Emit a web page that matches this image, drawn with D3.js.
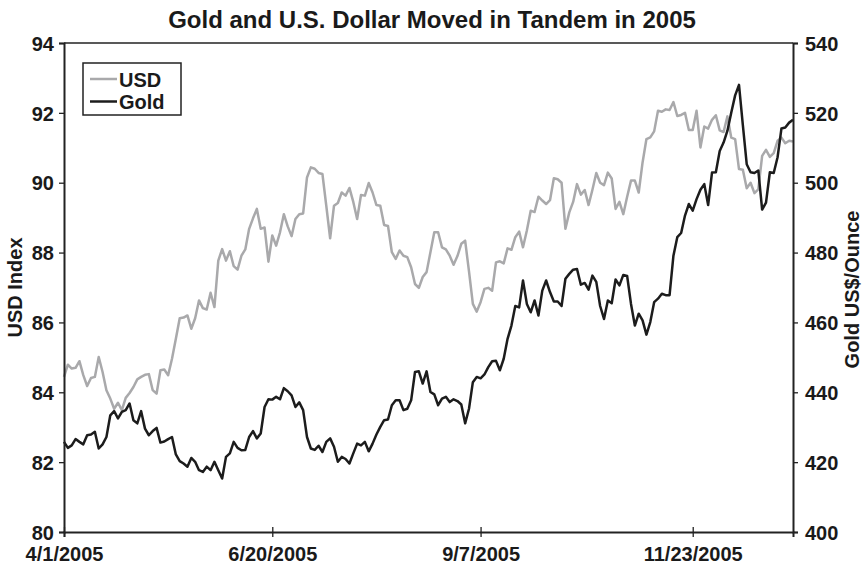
<!DOCTYPE html>
<html>
<head>
<meta charset="utf-8">
<script src="https://cdn.jsdelivr.net/npm/d3@7"></script>
<style>
  body { margin: 0; background: #fff; }
  text { font-family: "Liberation Sans", Arial, sans-serif; font-weight: bold; fill: #1a1a1a; }
</style>
</head>
<body>
<svg id="chart" width="865" height="572"></svg>
<script>
// daily values, 4/1/2005 .. end of 2005
const usd = [
  84.44, 84.79, 84.68, 84.70, 84.89, 84.49, 84.18, 84.41, 84.44, 85.01,
  84.58, 84.06, 83.82, 83.53, 83.70, 83.49, 83.84, 83.98, 84.15, 84.37,
  84.44, 84.50, 84.52, 84.06, 83.96, 84.63, 84.65, 84.49, 84.96, 85.53,
  86.12, 86.14, 86.20, 85.82, 86.12, 86.63, 86.41, 86.37,
  86.85, 86.44, 87.77, 88.10, 87.77, 88.04, 87.61, 87.51, 87.91, 88.09,
  88.68, 88.98, 89.25, 88.68, 88.72, 87.74, 88.49, 88.20, 88.58, 89.10,
  88.75, 88.47, 88.96, 89.10, 89.12, 90.15, 90.44, 90.40, 90.28, 90.25,
  89.34, 88.41, 89.34, 89.42, 89.72, 89.63, 89.85, 89.45,
  88.96, 89.65, 89.63, 89.99, 89.72, 89.36, 89.34, 88.79, 88.76, 88.01,
  87.82, 88.06, 87.91, 87.87, 87.58, 87.10, 86.99, 87.30, 87.44, 88.01,
  88.58, 88.58, 88.15, 88.09, 87.91, 87.65, 87.90, 88.25, 88.34, 87.46,
  86.53, 86.31, 86.58, 86.96, 86.99, 86.91, 87.72, 87.75, 87.69,
  88.12, 88.08, 88.44, 88.60, 88.15, 88.63, 89.20, 89.16, 89.60, 89.49,
  89.39, 89.50, 90.13, 90.10, 90.00, 88.68, 89.15, 89.45, 89.96, 89.66,
  89.79, 89.36, 89.80, 90.28, 90.00, 89.93, 90.29, 90.12, 89.25, 89.45,
  89.10, 89.60, 90.06, 90.06, 89.72, 90.58, 91.25, 91.30,
  91.47, 92.06, 92.03, 92.10, 92.08, 92.31, 91.91, 91.94, 92.00, 91.51,
  91.51, 92.06, 91.01, 91.61, 91.55, 91.80, 91.93, 91.50, 91.45, 91.90,
  91.29, 91.25, 90.39, 90.37, 89.84, 90.00, 89.70, 89.81, 90.77, 90.94,
  90.74, 90.85, 91.20, 91.29, 91.13, 91.20, 91.18
];

const gold = [
  425.8, 424.1, 424.8, 426.6, 425.8, 425.1, 427.7, 427.9, 428.7, 423.9,
  425.1, 427.2, 433.4, 434.6, 432.5, 434.4, 434.9, 436.8, 432.0, 431.1,
  434.6, 429.6, 427.7, 428.9, 429.8, 425.6, 425.9, 426.6, 427.2, 422.2,
  420.3, 419.6, 418.7, 421.2, 420.1, 417.7, 417.2, 418.7,
  417.7, 420.1, 417.7, 415.3, 421.5, 422.5, 425.8, 424.1, 423.4, 423.5,
  427.2, 428.9, 426.8, 428.2, 435.8, 438.0, 437.9, 438.7, 438.0, 441.2,
  440.3, 439.1, 435.8, 437.1, 434.9, 427.2, 423.9, 423.5, 424.7, 422.9,
  425.8, 426.8, 424.4, 420.1, 421.5, 420.9, 419.6, 422.5,
  425.3, 424.8, 425.8, 423.1, 425.3, 427.9, 430.1, 432.0, 432.2, 436.3,
  437.7, 437.7, 434.9, 435.3, 437.7, 445.8, 446.0, 442.5, 446.0, 440.1,
  439.4, 436.3, 438.2, 438.7, 437.2, 438.0, 437.5, 436.5, 431.1, 435.3,
  442.9, 444.4, 444.0, 445.1, 447.2, 448.9, 449.0, 446.3, 449.6,
  455.3, 459.1, 464.7, 464.3, 472.0, 465.3, 462.9, 466.3, 462.0, 469.1,
  472.0, 468.7, 466.0, 466.0, 464.7, 472.5, 473.9, 475.1, 475.3, 470.8,
  471.3, 469.4, 473.4, 471.6, 464.7, 461.0, 466.3, 465.5, 472.3, 470.6,
  473.6, 473.3, 465.3, 459.1, 462.5, 460.6, 456.5, 460.1,
  465.8, 466.8, 468.2, 467.8, 467.8, 479.1, 484.4, 485.6, 490.6, 493.9,
  492.0, 495.3, 498.0, 499.6, 493.6, 502.9, 503.0, 509.1, 511.5, 514.9,
  520.1, 525.0, 528.0, 516.5, 505.3, 503.0, 502.8, 503.5, 492.3, 494.3,
  503.0, 502.8, 507.3, 515.5, 515.8, 517.2, 518.0
];

const tickIdx = [0, 54, 108, 163];
const tickLabels = ["4/1/2005", "6/20/2005", "9/7/2005", "11/23/2005"];
const usdTicks = [80, 82, 84, 86, 88, 90, 92, 94];
const goldTicks = [400, 420, 440, 460, 480, 500, 520, 540];

const margin = { top: 43, right: 72, bottom: 40, left: 64 };
const W = 865, H = 572;
const width = W - margin.left - margin.right,
      height = H - margin.top - margin.bottom;

const svg = d3.select("#chart");
const g = svg.append("g").attr("transform", `translate(${margin.left},${margin.top})`);

const x = d3.scaleLinear().domain([0, usd.length - 1]).range([0, width]);
const yL = d3.scaleLinear().domain([80, 94]).range([height, 0]);
const yR = d3.scaleLinear().domain([400, 540]).range([height, 0]);

// frame top
g.append("line").attr("x1", 0).attr("x2", width).attr("y1", 0).attr("y2", 0)
  .attr("stroke", "#222").attr("stroke-width", 1.5);

// lines
const usdLine = d3.line().x((d, i) => x(i)).y(d => yL(d));
const goldLine = d3.line().x((d, i) => x(i)).y(d => yR(d));

g.append("path").datum(usd)
  .attr("fill", "none").attr("stroke", "#a9a9ab").attr("stroke-width", 2.5)
  .attr("stroke-linejoin", "round").attr("d", usdLine);
g.append("path").datum(gold)
  .attr("fill", "none").attr("stroke", "#1c1c1c").attr("stroke-width", 2.5)
  .attr("stroke-linejoin", "round").attr("d", goldLine);

// axes
const left = g.append("g")
  .call(d3.axisLeft(yL).tickValues(usdTicks).tickSize(5).tickPadding(5).tickFormat(d3.format("d")));
const right = g.append("g").attr("transform", `translate(${width},0)`)
  .call(d3.axisRight(yR).tickValues(goldTicks).tickSize(5).tickPadding(7).tickFormat(d3.format("d")));
const bottom = g.append("g").attr("transform", `translate(0,${height})`)
  .call(d3.axisBottom(x).tickValues(tickIdx).tickSize(5).tickPadding(10)
    .tickFormat((d, i) => tickLabels[i]));
bottom.selectAll(".tick line").attr("y1", -5);

[left, right, bottom].forEach(a => {
  a.select(".domain").attr("stroke", "#222").attr("stroke-width", 2);
  a.selectAll(".tick line").attr("stroke", "#222").attr("stroke-width", 1.3);
  a.selectAll(".tick text").style("font-size", "20px")
    .style("font-family", '"Liberation Sans", Arial, sans-serif').style("font-weight", "bold")
    .attr("fill", "#1a1a1a");
});
left.selectAll(".tick text").attr("dy", "0.36em");
right.selectAll(".tick text").attr("dy", "0.36em");

// title
svg.append("text").attr("x", 432).attr("y", 28).attr("text-anchor", "middle")
  .style("font-size", "24px").text("Gold and U.S. Dollar Moved in Tandem in 2005");

// axis titles
svg.append("text").attr("transform", `translate(22,${margin.top + height / 2}) rotate(-90)`)
  .attr("text-anchor", "middle").style("font-size", "20px").text("USD Index");
svg.append("text").attr("transform", `translate(859,${margin.top + height / 2 + 2}) rotate(-90)`)
  .attr("text-anchor", "middle").style("font-size", "20px").text("Gold US$/Ounce");

// legend
const leg = svg.append("g").attr("transform", "translate(83,63)");
leg.append("rect").attr("width", 98).attr("height", 52)
  .attr("fill", "#fff").attr("stroke", "#222").attr("stroke-width", 1.5);
const items = [{ name: "USD", color: "#a9a9ab" }, { name: "Gold", color: "#1c1c1c" }];
items.forEach((it, i) => {
  const yy = 16 + i * 22.5;
  leg.append("line").attr("x1", 7).attr("x2", 34).attr("y1", yy).attr("y2", yy)
    .attr("stroke", it.color).attr("stroke-width", 2.5);
  leg.append("text").attr("x", 36).attr("y", yy + 7.5).style("font-size", "20px").text(it.name);
});
</script>
</body>
</html>
